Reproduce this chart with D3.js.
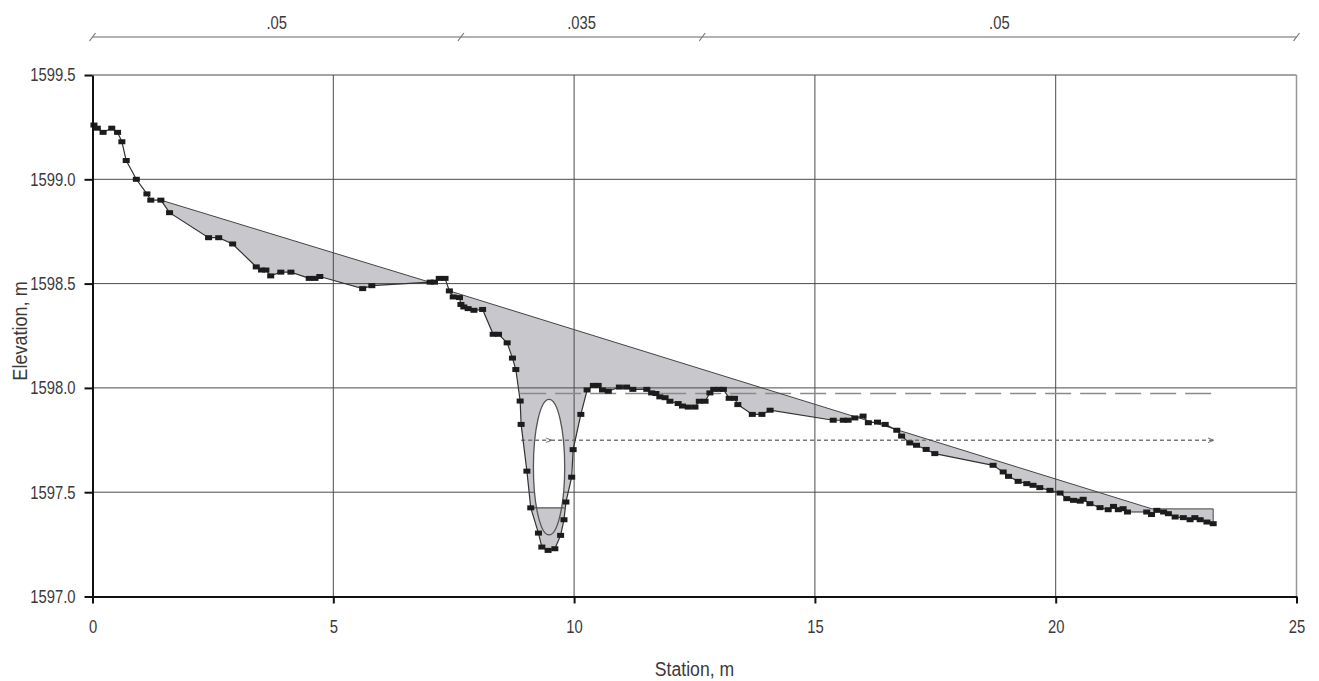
<!DOCTYPE html>
<html><head><meta charset="utf-8">
<script src="https://cdn.jsdelivr.net/npm/d3@7"></script>
<style>
body{margin:0;background:#fff;}
text{font-family:"Liberation Sans",Arial,sans-serif;fill:#3a3a3a;}
</style>
</head><body>
<svg id="c" width="1319" height="681"></svg>
<script>
// ---- data ----
const station = [0.03,0.10,0.22,0.40,0.52,0.61,0.70,0.91,1.13,1.21,1.42,1.60,2.41,2.62,2.91,3.40,3.51,3.60,3.70,3.91,4.12,4.50,4.62,4.72,5.61,5.80,7.01,7.10,7.20,7.32,7.41,
7.49,7.62,7.65,7.71,7.80,7.92,8.10,8.32,8.43,8.61,8.72,8.79,8.88,8.90,9.02,9.10,9.26,9.33,9.46,9.60,9.72,9.79,9.83,9.95,9.98,10.14,10.27,10.40,10.50,10.59,10.71,10.94,11.09,11.22,11.51,11.61,11.70,11.78,11.89,11.99,12.16,12.25,12.37,12.51,12.60,12.72,12.82,12.90,13.01,13.10,13.22,13.33,13.40,13.70,13.90,14.07,
15.38,15.59,15.69,15.83,16.00,16.11,16.30,16.46,16.70,16.80,16.97,17.11,17.31,17.49,18.70,18.91,19.02,19.22,19.40,19.53,19.67,19.88,20.09,20.23,20.37,20.51,20.57,20.71,20.92,21.09,21.20,21.30,21.40,21.49,21.89,21.99,22.10,22.24,22.34,22.48,22.65,22.79,22.89,23.00,23.14,23.27];
const elevation = [1599.26,1599.245,1599.225,1599.245,1599.225,1599.18,1599.09,1599.00,1598.93,1598.90,1598.90,1598.84,1598.72,1598.72,1598.69,1598.58,1598.565,1598.565,1598.537,1598.555,1598.555,1598.525,1598.525,1598.534,1598.476,1598.49,1598.507,1598.507,1598.525,1598.525,1598.465,
1598.436,1598.433,1598.40,1598.388,1598.38,1598.372,1598.376,1598.257,1598.257,1598.216,1598.143,1598.088,1597.937,1597.825,1597.601,1597.425,1597.304,1597.237,1597.221,1597.229,1597.293,1597.368,1597.453,1597.572,1597.704,1597.873,1597.99,1598.012,1598.012,1597.99,1597.984,1598.004,1598.004,1597.993,1597.993,1597.976,1597.973,1597.957,1597.953,1597.936,1597.925,1597.913,1597.908,1597.908,1597.936,1597.936,1597.976,1597.993,1597.993,1597.993,1597.95,1597.95,1597.92,1597.873,1597.873,1597.893,
1597.845,1597.845,1597.845,1597.856,1597.865,1597.833,1597.836,1597.825,1597.797,1597.769,1597.736,1597.725,1597.705,1597.685,1597.629,1597.597,1597.576,1597.552,1597.541,1597.533,1597.522,1597.509,1597.496,1597.469,1597.461,1597.457,1597.466,1597.445,1597.426,1597.416,1597.432,1597.416,1597.421,1597.405,1597.405,1597.393,1597.413,1597.405,1597.397,1597.381,1597.378,1597.368,1597.378,1597.368,1597.357,1597.349];

const xTicks = [0,5,10,15,20,25];
const yTicks = [1597.0,1597.5,1598.0,1598.5,1599.0,1599.5];

// water surface profiles
const wsUpperStation = [1.35, 7.0];
const wsUpperElev = [1598.905, 1598.507];
const wsMainStation = [7.41, 22.0, 23.27];
const wsMainElev = [1598.465, 1597.42, 1597.42];

// culvert pipe
const pipeCenter = [9.48, 1597.62];
const pipeRadius = 0.325;
const pipeWaterElev = 1597.425;
const pipeWaterStations = [9.10, 9.80];

// horizontal reference lines
const dashedElev = 1597.973, dashedStations = [8.88, 23.27];
const dottedElev = 1597.749, dottedStations = [8.90, 9.52, 23.27];

// Manning's n subdivisions
const nBreaks = [0, 7.65, 12.66, 25];
const nLabels = [".05", ".035", ".05"];

// ---- drawing ----
const svg = d3.select("#c");
const x = d3.scaleLinear().domain([0,25]).range([92.5,1296.5]);
const y = d3.scaleLinear().domain([1597,1599.5]).range([596.5,75]);
const ground = station.map((s,i)=>[s,elevation[i]]);
const line = d3.line().x(d=>x(d[0])).y(d=>y(d[1]));

// condensed look: scale text horizontally around its anchor point
function narrow(sel, sx){
  sel.each(function(){
    const t = d3.select(this);
    const tx = +t.attr("x")||0, ty = +t.attr("y")||0;
    const pre = t.attr("transform")||"";
    t.attr("x",0).attr("y",0).attr("transform",`${pre} translate(${tx},${ty}) scale(${sx},1)`);
  });
}

const defs = svg.append("defs");
const aboveGround = ground.map(d=>[x(d[0]),y(d[1])]);
aboveGround.push([x(23.27), 0],[x(0.03),0]);
defs.append("clipPath").attr("id","above").append("path")
  .attr("d","M"+aboveGround.map(p=>p.join(",")).join("L")+"Z");
defs.append("clipPath").attr("id","pipeTop").append("rect")
  .attr("x",0).attr("y",0).attr("width",1319).attr("height",y(pipeWaterElev));
defs.append("marker").attr("id","arr").attr("viewBox","0 0 10 10").attr("refX",9).attr("refY",5)
  .attr("markerWidth",6).attr("markerHeight",6).attr("markerUnits","userSpaceOnUse").attr("orient","auto")
  .append("path").attr("d","M0,1L10,5L0,9").attr("fill","none").attr("stroke","#666").attr("stroke-width",1.5);

const fillCol = "#c8c8cc";
function underWater(st, el){
  const pts = st.map((s,i)=>[x(s),y(el[i])]);
  pts.push([x(st[st.length-1]), 700],[x(st[0]),700]);
  return "M"+pts.map(p=>p.join(",")).join("L")+"Z";
}
const fills = svg.append("g").attr("clip-path","url(#above)");
fills.append("path").attr("d",underWater(wsUpperStation,wsUpperElev)).attr("fill",fillCol);
fills.append("path").attr("d",underWater(wsMainStation,wsMainElev)).attr("fill",fillCol);

// grid
const grid = svg.append("g").attr("stroke","#4a4a4a").attr("stroke-width",1);
[5,10,15,20].forEach(v=>grid.append("line").attr("x1",x(v)).attr("x2",x(v)).attr("y1",y(1599.5)).attr("y2",y(1597)));
[1597.5,1598,1598.5,1599,1599.5].forEach(v=>grid.append("line").attr("x1",x(0)).attr("x2",x(25)).attr("y1",y(v)).attr("y2",y(v)));
svg.append("line").attr("x1",x(25)).attr("x2",x(25)).attr("y1",y(1599.5)).attr("y2",y(1597)).attr("stroke","#999").attr("stroke-width",1.5);

// culvert
const cx = x(pipeCenter[0]), cy = y(pipeCenter[1]);
const rx = x(pipeCenter[0]+pipeRadius)-cx, ry = cy - y(pipeCenter[1]+pipeRadius);
svg.append("ellipse").attr("cx",cx).attr("cy",cy).attr("rx",rx).attr("ry",ry)
  .attr("fill","#fff").attr("clip-path","url(#pipeTop)");
svg.append("ellipse").attr("cx",cx).attr("cy",cy).attr("rx",rx).attr("ry",ry)
  .attr("fill","none").attr("stroke","#555").attr("stroke-width",1.3);
svg.append("line").attr("x1",x(pipeWaterStations[0])).attr("x2",x(pipeWaterStations[1]))
  .attr("y1",y(pipeWaterElev)).attr("y2",y(pipeWaterElev)).attr("stroke","#555").attr("stroke-width",1.2);

// reference lines
svg.append("line").attr("x1",x(dashedStations[0])).attr("x2",x(dashedStations[1]))
  .attr("y1",y(dashedElev)).attr("y2",y(dashedElev))
  .attr("stroke","#8a8a8a").attr("stroke-width",1.6).attr("stroke-dasharray","26,9");
for(let i=0;i<dottedStations.length-1;i++){
  svg.append("line").attr("x1",x(dottedStations[i])).attr("x2",x(dottedStations[i+1]))
    .attr("y1",y(dottedElev)).attr("y2",y(dottedElev))
    .attr("stroke","#777").attr("stroke-width",1.3).attr("stroke-dasharray","4,3")
    .attr("marker-end","url(#arr)");
}

// water surface lines
svg.append("path").attr("d",line(wsUpperStation.map((s,i)=>[s,wsUpperElev[i]])))
  .attr("fill","none").attr("stroke","#444").attr("stroke-width",1);
const wsMain = wsMainStation.map((s,i)=>[s,wsMainElev[i]]);
wsMain.push([23.27, elevation[elevation.length-1]]);
svg.append("path").attr("d",line(wsMain)).attr("fill","none").attr("stroke","#444").attr("stroke-width",1);

// ground
svg.append("path").attr("d",line(ground)).attr("fill","none").attr("stroke","#333").attr("stroke-width",1.2);
svg.append("g").selectAll("rect").data(ground).join("rect")
  .attr("x",d=>x(d[0])-3.5).attr("y",d=>y(d[1])-2.5).attr("width",7).attr("height",5).attr("fill","#1c1c1c");

// axes
const ax = svg.append("g").attr("transform",`translate(0,${y(1597)})`)
  .call(d3.axisBottom(x).tickValues(xTicks).tickSize(7).tickSizeOuter(0).tickPadding(16).tickFormat(d3.format("d")));
const ay = svg.append("g").attr("transform",`translate(${x(0)},0)`)
  .call(d3.axisLeft(y).tickValues(yTicks).tickSize(8).tickSizeOuter(0).tickPadding(9).tickFormat(d3.format(".1f")));
[ax,ay].forEach(g=>{
  g.select(".domain").attr("stroke","#111").attr("stroke-width",2);
  g.selectAll(".tick line").attr("stroke","#111").attr("stroke-width",2);
  g.selectAll(".tick text").attr("font-size",18.5).attr("fill","#3a3a3a")
   .attr("font-family",'"Liberation Sans",Arial,sans-serif');
  narrow(g.selectAll(".tick text"), 0.8);
});

narrow(svg.append("text").attr("x",694.5).attr("y",676).attr("text-anchor","middle").attr("font-size",21).text("Station, m"), 0.84);
const yt = svg.append("g").attr("transform","translate(20,331) rotate(-90)");
narrow(yt.append("text").attr("dy","0.35em").attr("text-anchor","middle").attr("font-size",21).text("Elevation, m"), 0.86);

// Manning's n band
const nY = 37;
svg.append("line").attr("x1",x(0)).attr("x2",x(25)).attr("y1",nY).attr("y2",nY).attr("stroke","#999").attr("stroke-width",1.5);
nBreaks.forEach(b=>svg.append("line").attr("x1",x(b)-3).attr("x2",x(b)+3).attr("y1",nY+4).attr("y2",nY-4)
  .attr("stroke","#777").attr("stroke-width",1.2));
nLabels.forEach((t,i)=>narrow(svg.append("text").attr("x",x((nBreaks[i]+nBreaks[i+1])/2)).attr("y",29)
  .attr("text-anchor","middle").attr("font-size",18).text(t), 0.82));
</script>
</body></html>
